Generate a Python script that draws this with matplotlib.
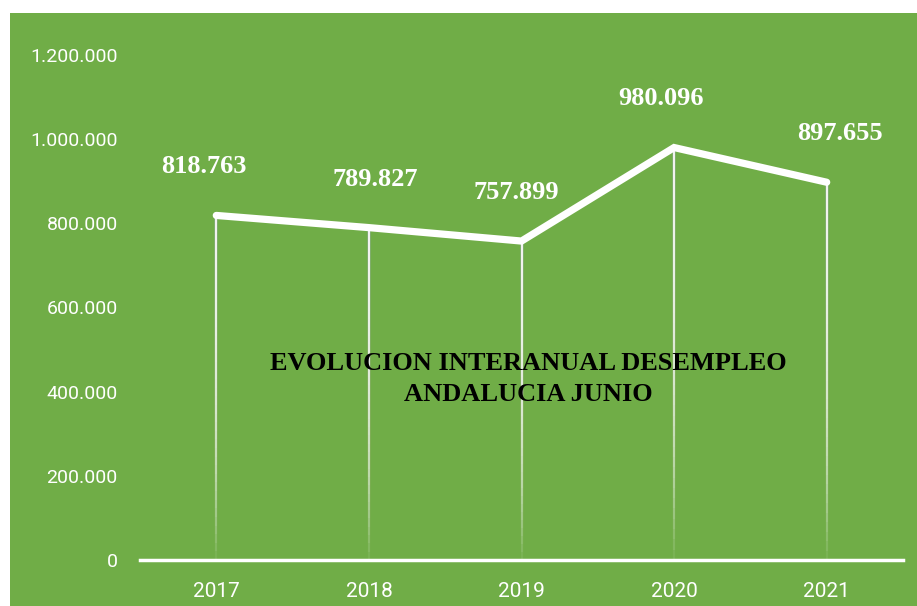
import numpy as np
import matplotlib
matplotlib.use("Agg")
import matplotlib.pyplot as plt
from matplotlib.patches import Rectangle
from matplotlib.ticker import FuncFormatter

# data
years = ["2017", "2018", "2019", "2020", "2021"]
parados = [818763, 789827, 757899, 980096, 897655]
label_dx = [-12, 6, -5, -13, 13]   # manual label nudges (px)

green = "#70AD47"
tick_font = ["Roboto", "DejaVu Sans"]
label_font = ["Liberation Serif", "DejaVu Serif"]


def fmt_es(v, pos=None):
    return f"{int(round(v)):,}".replace(",", ".")


fig = plt.figure(figsize=(9.17, 6.06), dpi=100)
fig.patch.set_facecolor("white")
fig.patches.append(Rectangle((10 / 917, 0), 907 / 917, 593 / 606,
                             transform=fig.transFigure, facecolor=green,
                             edgecolor="none", zorder=-10))

ax = fig.add_axes([140 / 917, 46 / 606, 763 / 917, 505 / 606])
ax.set_facecolor("none")
x = np.arange(len(years))
ax.set_xlim(-0.5, len(years) - 0.5)
ax.set_ylim(0, 1200000)

# drop lines fading towards the axis: stacked translucent lines
n = 40
for xi, yi in zip(x, parados):
    for k in range(n):
        y0 = yi * k / n
        ax.plot([xi, xi], [y0, yi], color="white", alpha=0.075, lw=1.6,
                solid_capstyle="butt", zorder=2)

ax.plot(x, parados, color="white", lw=5.2, solid_capstyle="round",
        solid_joinstyle="miter", zorder=3)

for xi, yi, dx in zip(x, parados, label_dx):
    ax.annotate(fmt_es(yi), (xi, yi), xytext=(dx * 0.72, 35),
                textcoords="offset points", ha="center", va="center",
                color="white", fontsize=19, fontweight="bold",
                family=label_font, zorder=4)

ax.text(0.5085, 0.358, "EVOLUCION INTERANUAL DESEMPLEO\nANDALUCIA JUNIO",
        transform=ax.transAxes, ha="center", va="center", fontsize=19,
        fontweight="bold", family=label_font, color="black",
        linespacing=1.45, zorder=5)

ax.set_xticks(x)
ax.set_xticklabels(years)
ax.set_yticks(np.arange(0, 1200001, 200000))
ax.yaxis.set_major_formatter(FuncFormatter(fmt_es))
for s in ["top", "right", "left"]:
    ax.spines[s].set_visible(False)
ax.spines["bottom"].set_color("white")
ax.spines["bottom"].set_linewidth(2.5)
ax.tick_params(axis="both", length=0, colors="white")
ax.tick_params(axis="y", pad=16, labelsize=14)
ax.tick_params(axis="x", pad=16, labelsize=15)
for lab in ax.get_xticklabels() + ax.get_yticklabels():
    lab.set_family(tick_font)

fig.savefig("out.png", dpi=100, facecolor=fig.get_facecolor())
